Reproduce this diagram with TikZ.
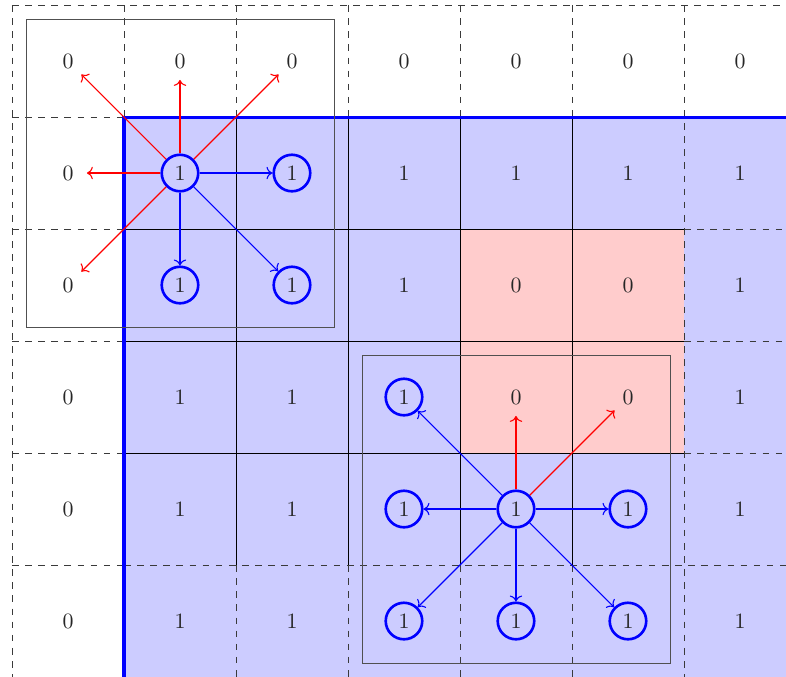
\documentclass[tikz,border=0pt]{standalone}
\usepackage{xcolor}
\usepackage{tikz}
\usetikzlibrary{arrows.meta}
\definecolor{gridc}{HTML}{3A3A3A}
\definecolor{boxc}{HTML}{505050}

\begin{document}
\begin{tikzpicture}[x=1.8cm,y=1.8cm,
  num/.style={circle,inner sep=.3em,text=black!85},
  hit/.style={num,draw=blue,very thick},
  good/.style={->,blue,line width=.5pt},
  bad/.style={->,red,line width=.5pt},
  win/.style={draw=boxc},
]
\useasboundingbox (-0.107,0.045) rectangle (6.911,-5.996);
\clip (-0.107,0.045) rectangle (6.911,-5.996);

% regions
\fill[blue!20] (1,-1) rectangle (7.5,-6.5);
\fill[red!20] (4,-2) rectangle (6,-4);

% the grid: solid inside, dashed everywhere else
\foreach \x in {2,...,5} \draw[black] (\x,-1) -- (\x,-5);
\foreach \y in {2,...,4} \draw[black] (1,-\y) -- (6,-\y);
\draw[gridc,dashed] (0,0) -- (7.5,0);
\draw[gridc,dashed] (0,0) -- (0,-6.5);
\foreach \x in {1,...,6} \draw[gridc,dashed] (\x,0) -- (\x,-1);
\foreach \x in {2,...,5} \draw[gridc,dashed] (\x,-5) -- (\x,-6.5);
\draw[gridc,dashed] (6,0) -- (6,-6.5);
\foreach \y in {1,...,5} \draw[gridc,dashed] (0,-\y) -- (1,-\y);
\foreach \y in {2,...,4} \draw[gridc,dashed] (6,-\y) -- (7.5,-\y);
\draw[gridc,dashed] (1,-5) -- (7.5,-5);
\draw[blue,line width=1.4pt] (1,-6.5) -- (1,-1) -- (7.5,-1);

% the two windows
\draw[win] (0.125,-0.125) rectangle (2.875,-2.875);
\draw[win] (3.125,-3.125) rectangle (5.875,-5.875);

% values
\foreach \v/\s [count=\i from 0] in {0/num,0/num,0/num,0/num,0/num,0/num,0/num}
  \node[\s] (c\i0) at (\i+.5,-.5) {\v};
\foreach \v/\s [count=\i from 0] in {0/num,1/hit,1/hit,1/num,1/num,1/num,1/num}
  \node[\s] (c\i1) at (\i+.5,-1.5) {\v};
\foreach \v/\s [count=\i from 0] in {0/num,1/hit,1/hit,1/num,0/num,0/num,1/num}
  \node[\s] (c\i2) at (\i+.5,-2.5) {\v};
\foreach \v/\s [count=\i from 0] in {0/num,1/num,1/num,1/hit,0/num,0/num,1/num}
  \node[\s] (c\i3) at (\i+.5,-3.5) {\v};
\foreach \v/\s [count=\i from 0] in {0/num,1/num,1/num,1/hit,1/hit,1/hit,1/num}
  \node[\s] (c\i4) at (\i+.5,-4.5) {\v};
\foreach \v/\s [count=\i from 0] in {0/num,1/num,1/num,1/hit,1/hit,1/hit,1/num}
  \node[\s] (c\i5) at (\i+.5,-5.5) {\v};

% neighbours of the first seed
\foreach \t in {c00,c10,c20,c01,c02} \draw[bad] (c11) -- (\t);
\foreach \t in {c21,c12,c22} \draw[good] (c11) -- (\t);

% neighbours of the second seed
\foreach \t in {c43,c53} \draw[bad] (c44) -- (\t);
\foreach \t in {c33,c34,c54,c35,c45,c55} \draw[good] (c44) -- (\t);
\end{tikzpicture}
\end{document}
